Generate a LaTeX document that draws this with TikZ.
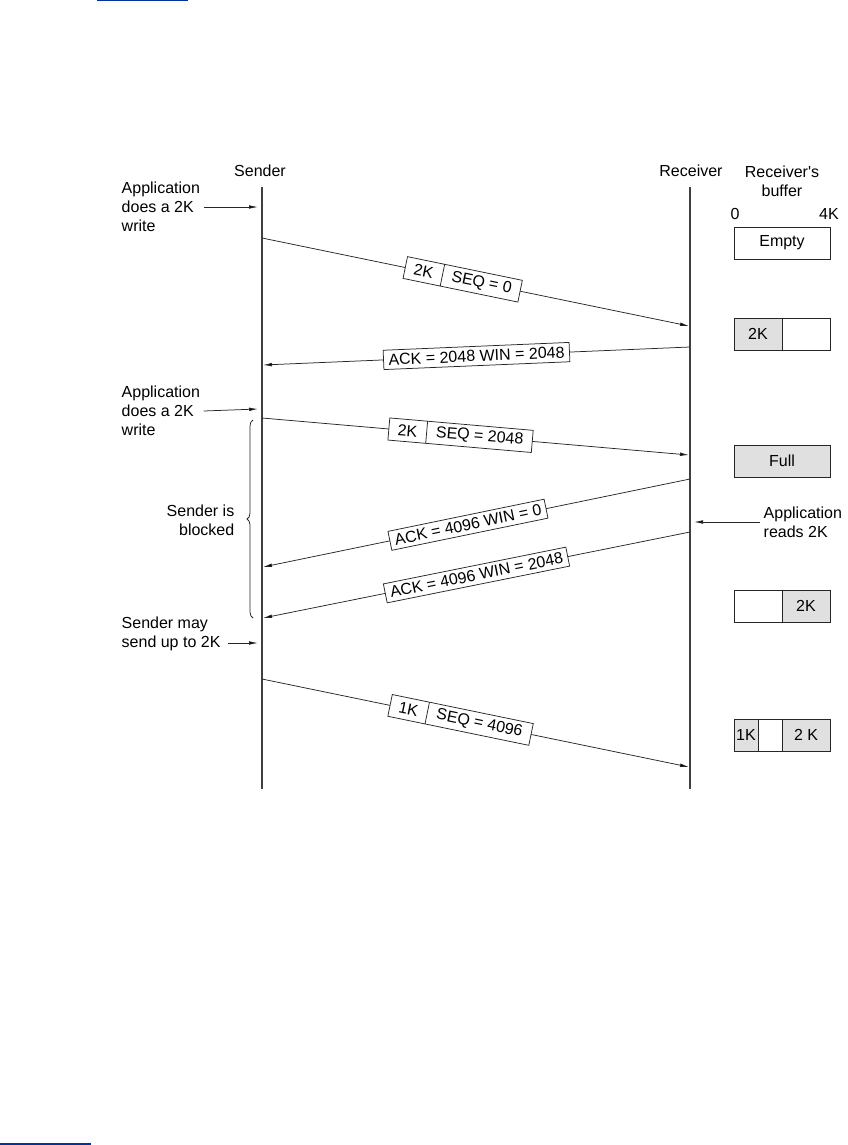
\documentclass[tikz,border=0pt]{standalone}
\usepackage{fontspec}
\setmainfont{Liberation Sans}
\usetikzlibrary{arrows.meta,shapes.multipart,decorations.pathreplacing}
\definecolor{linkblue}{HTML}{003399}
\definecolor{bufgray}{HTML}{E0E0E0}

\begin{document}
\begin{tikzpicture}[x=1pt, y=-1pt, font=\fontsize{16}{19}\selectfont,
  line width=0.75pt, draw=black!85,
  tip/.style={-{Latex[length=9pt,width=3.6pt]}},
  seg/.style={draw, fill=white, sloped, rectangle split, rectangle split horizontal,
    rectangle split parts=2, inner xsep=9pt, inner ysep=4pt},
  ack/.style={draw, fill=white, sloped, inner xsep=5pt, inner ysep=4pt},
  buf/.style={draw, minimum height=32pt, inner sep=0pt},
  used/.style={buf, fill=bufgray}]
  \useasboundingbox (0,0) rectangle (848,1145);

  % Cut-off link rules
  \fill[linkblue] (97,0) rectangle (188,1.5);
  \fill[linkblue] (0,1143) rectangle (91,1145);

  % Headings
  \node (snd) at (260,171) {Sender};
  \node (rcv) at (691,171) {Receiver};
  \node[align=center] (bufl) at (782,181) {Receiver\textquotesingle s\\buffer};
  \node (z0) at (735,214) {0};
  \node (z4) at (829,214) {4K};

  % Time lines
  \path
  (262,187) coordinate(sTop)
  (262,789) coordinate(sBot)
  (690,187) coordinate(rTop)
  (690,789) coordinate(rBot);
  \draw[line width=1.1pt, black!75] (sTop) -- (sBot);
  \draw[line width=1.1pt, black!75] (rTop) -- (rBot);

  % Coordinates for segments
  %
  % s -> sender side
  % r -> receiver side
  \path
  (262,238) coordinate(s1)
  (689,326) coordinate(r1)
  (690,347) coordinate(r2)
  (263,365) coordinate(s2)
  (262,418) coordinate(s3)
  (689,455) coordinate(r3)
  (690,479) coordinate(r4)
  (263,567) coordinate(s4)
  (690,532) coordinate(r5)
  (263,618) coordinate(s5)
  (262,679) coordinate(s6)
  (689,767) coordinate(r6);

  % Segments and acknowledgements
  \draw[tip] (s1) -- node[seg, pos=0.47] (m1) {2K \nodepart{two} SEQ = 0} (r1);
  \draw[tip] (r2) -- node[ack, pos=0.5] (m2) {ACK = 2048 WIN = 2048} (s2);
  \draw[tip] (s3) -- node[seg, pos=0.465] (m3) {2K \nodepart{two} SEQ = 2048} (r3);
  \draw[tip] (r4) -- node[ack, pos=0.52] (m4) {ACK = 4096 WIN = 0} (s4);
  \draw[tip] (r5) -- node[ack, pos=0.5] (m5) {ACK = 4096 WIN = 2048} (s5);
  \draw[tip] (s6) -- node[seg, pos=0.465] (m6) {1K \nodepart{two} SEQ = 4096} (r6);

  % Application events
  \node[align=left, anchor=west] (app1) at (118,207) {Application\\does a 2K\\write};
  \node[align=left, anchor=west] (app2) at (118,411) {Application\\does a 2K\\write};
  \node[align=right, anchor=east] (blk) at (238,520) {Sender is\\blocked};
  \node[align=left, anchor=west] (may) at (118,634) {Sender may\\send up to 2K};
  \node[align=left, anchor=west] (rd) at (760,522) {Application\\reads 2K};
  \path
  (258,207) coordinate(a1)
  (258,409) coordinate(a2)
  (228,643) coordinate(m0)
  (258,643) coordinate(a3)
  (694,522) coordinate(a4);
  \draw[tip] (app1.east) -- (a1);
  \draw[tip] (app2.east) -- (a2);
  \draw[tip] (m0) -- (a3);
  \draw[tip] (rd.west) -- (a4);

  % Blocked interval
  \draw[decorate, decoration={brace, amplitude=6pt}] (253,618) -- (253,420);

  % Receiver's buffer
  \node[buf, minimum width=96pt] (b1) at (782,243) {Empty};
  \node[used, minimum width=48pt] (b2a) at (758,334) {2K};
  \node[buf, minimum width=48pt] (b2b) at (806,334) {};
  \node[used, minimum width=96pt] (b3) at (782,461) {Full};
  \node[buf, minimum width=48pt] (b4a) at (758,606) {};
  \node[used, minimum width=48pt] (b4b) at (806,606) {2K};
  \node[used, minimum width=24pt] (b5a) at (746,735) {1K};
  \node[buf, minimum width=24pt] (b5b) at (770,735) {};
  \node[used, minimum width=48pt] (b5c) at (806,735) {2 K};
\end{tikzpicture}
\end{document}
